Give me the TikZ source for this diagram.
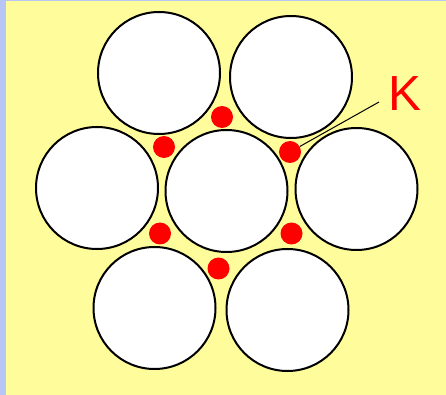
\documentclass[tikz,border=0pt]{standalone}
\usepackage{fontspec}
\setmainfont{Liberation Sans}
\definecolor{bgyellow}{HTML}{FFFC9C}
\definecolor{edgeblue}{HTML}{B8C6F6}
\begin{document}
\begin{tikzpicture}[x=0.75pt,y=-0.75pt,
  ball/.style={circle,draw=black,fill=white,line width=1.5pt,minimum size=91.5pt,inner sep=0pt},
  reddot/.style={circle,fill=red,minimum size=16.5pt,inner sep=0pt},
  leader/.style={draw=black,line width=0.75pt}]
\fill[edgeblue] (0,0) rectangle (446,395);
\fill[bgyellow] (6,1) rectangle (446,395);
\useasboundingbox (0,0) rectangle (446,395);
% balls
\node[ball] (tl) at (159,73) {};
\node[ball] (tr) at (291,77) {};
\node[ball] (ml) at (97,188) {};
\node[ball] (mc) at (226.5,191) {};
\node[ball] (mr) at (356.5,189) {};
\node[ball] (bl) at (154.5,308) {};
\node[ball] (br) at (287.5,310) {};
% red dots
\node[reddot] (dt) at (222,117) {};
\node[reddot] (dul) at (164,147) {};
\node[reddot] (dur) at (290,152) {};
\node[reddot] (dll) at (160,233.5) {};
\node[reddot] (dlr) at (291.5,233.5) {};
\node[reddot] (db) at (218.5,268.5) {};
% label
\node[text=red,inner sep=0pt,font=\fontsize{37}{40}\selectfont] (K) at (405,93.5) {K};
\coordinate (kl) at (379,102);
\draw[leader] (kl) -- (dur);
\end{tikzpicture}
\end{document}
